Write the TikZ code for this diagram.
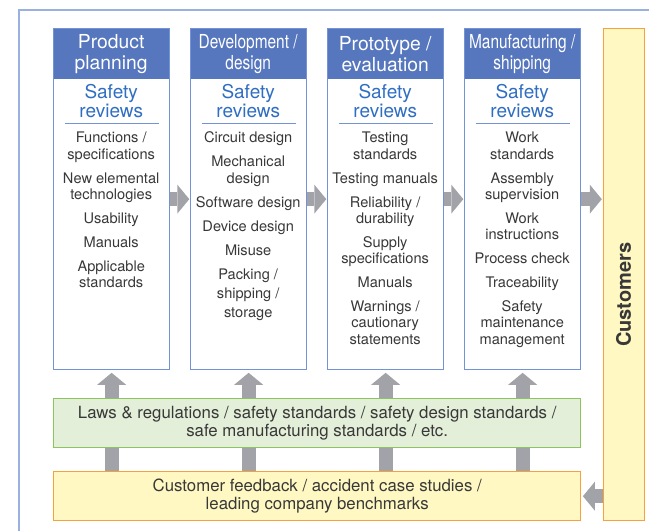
\documentclass[tikz,border=0pt]{standalone}
\usepackage{fontspec}
\setmainfont{TeX Gyre Heros}
\newfontfamily\narrowfont[FakeStretch=0.8]{TeX Gyre Heros}
\usetikzlibrary{arrows.meta,calc,positioning}
\definecolor{HeadBlue}{HTML}{5676BE}
\definecolor{ColBlue}{HTML}{7393D6}
\definecolor{FrameBlue}{HTML}{9AB1E0}
\definecolor{ReviewBlue}{HTML}{2F6EC2}
\definecolor{ArrowGray}{HTML}{A2A3A8}
\definecolor{TextGray}{HTML}{383838}
\definecolor{LawGreen}{HTML}{E4EFD9}
\definecolor{LawEdge}{HTML}{8CC560}
\definecolor{VoiceYellow}{HTML}{FFF8C2}
\definecolor{VoiceOrange}{HTML}{F6A23C}

\begin{document}
\begin{tikzpicture}[x=1pt,y=-1pt,
  col/.style={draw=ColBlue,line width=1.3pt,minimum width=116pt,minimum height=341pt,anchor=north west,inner sep=0pt},
  head/.style={fill=HeadBlue,text=white,minimum width=116pt,minimum height=51pt,anchor=north west,inner sep=0pt,align=center,font=\fontsize{19.3}{21}\selectfont},
  narrowhead/.style={head,font=\narrowfont\fontsize{19.3}{21}\selectfont},
  review/.style={text=ReviewBlue,align=center,inner sep=0pt,font=\fontsize{19}{19}\selectfont},
  items/.style={anchor=north,align=center,inner sep=0pt,text=TextGray,font=\fontsize{14.6}{16.3}\selectfont},
  band/.style={line width=1.4pt,minimum width=527pt,minimum height=49pt,anchor=north west,align=center,inner sep=0pt,text=TextGray,font=\fontsize{16.8}{18}\selectfont},
  flow/.style={draw=ArrowGray,line width=14pt,-{Triangle[length=12pt,width=29pt,line width=0pt]}},
  rule/.style={draw=ColBlue,line width=0.9pt}]
  \useasboundingbox (0,0) rectangle (649,531);
  \draw[FrameBlue,line width=1.2pt] (19,531) -- (19,10) -- (649,10);

  % four process stages
  \node[head] (h1) at (53,28) {Product\\planning};
  \node[narrowhead] (h2) at (190,28) {Development /\\design};
  \node[head] (h3) at (327,28) {Prototype /\\evaluation};
  \node[narrowhead] (h4) at (464,28) {Manufacturing /\\shipping};
  \foreach \x [count=\i] in {53,190,327,464}{
    \node[col] (c\i) at (\x,28) {};
    \node[review,below=4.5pt of h\i] (r\i) {Safety\\reviews};
    \draw[rule] ($(r\i.south -| c\i.west)+(11.5,5.5)$) -- ($(r\i.south -| c\i.east)+(-11.5,5.5)$);
  }
  \node[items,below=14.1pt of r1] (t1) {Functions /\\specifications\\[7.7pt]New elemental\\technologies\\[7.7pt]Usability\\[7.7pt]Manuals\\[7.7pt]Applicable\\standards};
  \node[items,below=14.1pt of r2] (t2) {Circuit design\\[7.7pt]Mechanical\\design\\[7.7pt]Software design\\[7.7pt]Device design\\[7.7pt]Misuse\\[7.7pt]Packing /\\[3pt]shipping /\\[3pt]storage};
  \node[items,below=14.1pt of r3] (t3) {Testing\\standards\\[7.7pt]Testing manuals\\[7.7pt]Reliability /\\durability\\[7.7pt]Supply\\specifications\\[7.7pt]Manuals\\[7.7pt]Warnings /\\cautionary\\statements};
  \node[items,below=14.1pt of r4] (t4) {Work\\standards\\[7.7pt]Assembly\\supervision\\[7.7pt]Work\\instructions\\[7.7pt]Process check\\[7.7pt]Traceability\\[7.7pt]Safety\\maintenance\\management};

  % customers and feedback
  \node[draw=VoiceOrange,fill=VoiceYellow,line width=1.4pt,minimum width=41pt,minimum height=492pt,anchor=north west,inner sep=0pt] (cust) at (602.5,28) {};
  \node[rotate=90,text=TextGray,font=\bfseries\fontsize{20}{20}\selectfont] (custlabel) at ([yshift=-20pt]cust.center) {Customers};
  \node[band,fill=VoiceYellow,draw=VoiceOrange] (voice) at (53,471) {Customer feedback / accident case studies /\\leading company benchmarks};
  \foreach \i in {1,...,4}{\draw[flow,shorten >=2.5pt] (c\i.south |- voice.north) -- (c\i.south);}
  \node[band,fill=LawGreen,draw=LawEdge] (laws) at (53,398) {Laws \& regulations / safety standards / safety design standards /\\safe manufacturing standards / etc.};

  \draw[flow,shorten >=0.7pt] (c1.east) -- (c2.west);
  \draw[flow,shorten >=0.7pt] (c2.east) -- (c3.west);
  \draw[flow,shorten >=0.7pt] (c3.east) -- (c4.west);
  \draw[flow,shorten >=0.7pt] (c4.east) -- (c4.east -| cust.west);
  \draw[flow,shorten >=1.5pt] (cust.west |- voice.east) -- (voice.east);
\end{tikzpicture}
\end{document}
